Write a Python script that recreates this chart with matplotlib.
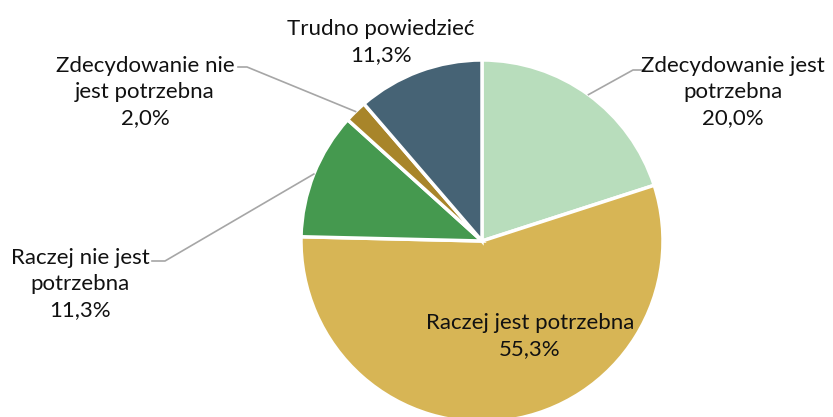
import numpy as np
import matplotlib.pyplot as plt

labels = ['Zdecydowanie jest\npotrzebna', 'Raczej jest potrzebna', 'Raczej nie jest\npotrzebna',
          'Zdecydowanie nie\njest potrzebna', 'Trudno powiedzieć']
values = [20.0, 55.3, 11.3, 2.0, 11.3]
colors = ['#B8DDBC', '#D7B555', '#45994F', '#A8852A', '#466375']

W, H = 833, 417
CX, CY, R = 482, H - 241, 181

fig = plt.figure(figsize=(W / 100, H / 100), dpi=100)
ax = fig.add_axes([0, 0, 1, 1])
wedges, _ = ax.pie(values, colors=colors, startangle=90, counterclock=False,
                   center=(CX, CY), radius=R,
                   wedgeprops=dict(edgecolor='white', linewidth=2.5))
ax.set_xlim(0, W)
ax.set_ylim(0, H)
ax.set_aspect('equal')
ax.axis('off')

FONT = dict(family='Lato', fontsize=16, color='#111111', linespacing=1.4)

# label position (image px) and elbow of leader line; None = no leader
layout = [
    ((733, 92), (633, 70), (645, 70)),
    ((530, 336), None, None),
    ((80, 284), (165, 261), (152, 261)),
    ((145, 92), (247, 67), (238, 67)),
    ((381, 42), None, None),
]

for w, lab, v, (pos, elbow, end) in zip(wedges, labels, values, layout):
    txt = f'{lab}\n{v:.1f}%'.replace('.', ',')
    ax.text(pos[0], H - pos[1], txt, ha='center', va='center', **FONT)
    if elbow is not None:
        mid = np.deg2rad((w.theta1 + w.theta2) / 2)
        x0, y0 = CX + R * np.cos(mid), CY + R * np.sin(mid)
        ax.plot([x0, elbow[0], end[0]], [y0, H - elbow[1], H - end[1]],
                color='#A6A6A6', linewidth=1.2)

fig.savefig('out.png', dpi=100)
